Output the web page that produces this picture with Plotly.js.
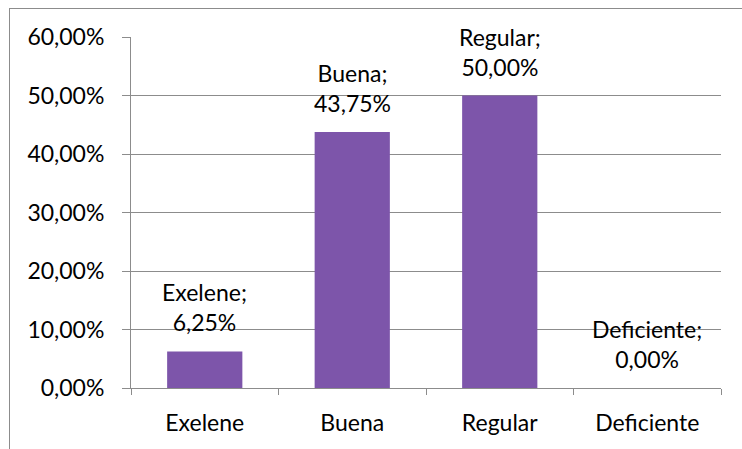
<!DOCTYPE html>
<html><head><meta charset="utf-8">
<script src="https://cdn.plot.ly/plotly-3.0.1.min.js"></script>
<style>
html,body{margin:0;padding:0;background:#fff;overflow:hidden}
#wrap{position:relative;width:742px;height:449px}
#frame{position:absolute;left:9px;top:8px;width:800px;height:500px;border:1px solid #8c8c8c;box-sizing:border-box;pointer-events:none}
#chart{position:absolute;left:0;top:0;width:742px;height:449px}
</style></head>
<body><div id="wrap"><div id="frame"></div><div id="chart"></div></div>
<script>
const categories = ["Exelene", "Buena", "Regular", "Deficiente"];
const values = [0.0625, 0.4375, 0.50, 0.0];
const labelText = ["Exelene;<br>6,25%", "Buena;<br>43,75%", "Regular;<br>50,00%", "Deficiente;<br>0,00%"];
const yTickVals = [0, 0.1, 0.2, 0.3, 0.4, 0.5, 0.6];

const FONT = "Lato, 'Noto Sans', sans-serif";
const FS = 23;
const trace = {
  type: "bar",
  x: categories,
  y: values,
  marker: {color: "#7d55aa", line: {width: 0}},
  hoverinfo: "skip"
};
const annotations = categories.map((c, i) => ({
  x: c, y: values[i], xref: "x", yref: "y",
  text: labelText[i], showarrow: false, yanchor: "bottom", yshift: 13,
  font: {family: FONT, size: FS, color: "#000"}
}));
const layout = {
  width: 742, height: 449,
  margin: {l: 131, r: 21, t: 37, b: 61},
  paper_bgcolor: "rgba(0,0,0,0)", plot_bgcolor: "rgba(0,0,0,0)",
  separators: ",.",
  bargap: 0.49,
  showlegend: false,
  font: {family: FONT, size: FS, color: "#000"},
  xaxis: {
    type: "category", showgrid: false, showline: true, linecolor: "#8c8c8c", linewidth: 1,
    ticks: "outside", tickson: "boundaries", ticklen: 6, tickcolor: "#8c8c8c",
    ticklabelstandoff: 14,
    tickfont: {family: FONT, size: FS, color: "#000"}, automargin: false
  },
  yaxis: {
    range: [0, 0.6], tickvals: yTickVals, tickformat: ".2%",
    showgrid: true, gridcolor: "#8c8c8c", gridwidth: 1,
    showline: true, linecolor: "#8c8c8c", linewidth: 1,
    ticks: "outside", ticklen: 8, tickcolor: "#8c8c8c",
    ticklabelstandoff: 13,
    tickfont: {family: FONT, size: FS, color: "#000"}, zeroline: false, automargin: false
  },
  annotations: annotations
};
Plotly.newPlot("chart", [trace], layout, {displayModeBar: false, staticPlot: true});
</script></body></html>
